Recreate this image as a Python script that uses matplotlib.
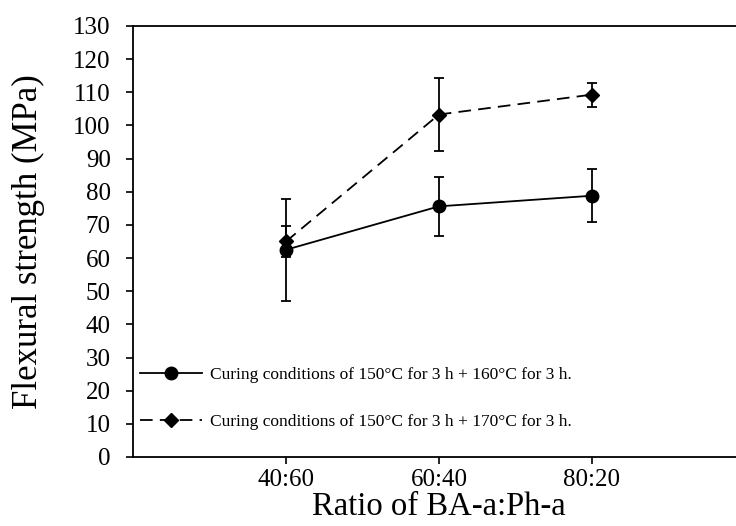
import numpy as np
import matplotlib
matplotlib.use('Agg')
import matplotlib.pyplot as plt
from matplotlib.lines import Line2D

# data
ratio_labels = ['40:60', '60:40', '80:20']
x_pos = [1, 2, 3]

strength_160 = [62.5, 75.6, 78.8]
err_160      = [15.3, 8.8, 8.0]

strength_170 = [65.0, 103.3, 109.3]
err_170      = [4.7, 10.9, 3.6]

label_160 = 'Curing conditions of 150°C for 3 h + 160°C for 3 h.'
label_170 = 'Curing conditions of 150°C for 3 h + 170°C for 3 h.'

dash_style = (0, (7, 4))

plt.rcParams['font.family'] = ['Liberation Serif', 'DejaVu Serif']

fig = plt.figure(figsize=(7.36, 5.26), dpi=100)
ax = fig.add_axes([0.1807, 0.1312, 0.8315, 0.8194])

ax.errorbar(x_pos, strength_160, yerr=err_160, color='black', linestyle='-',
            linewidth=1.3, marker='o', markersize=9, capsize=3.5,
            elinewidth=1.3, capthick=1.3)
ax.errorbar(x_pos, strength_170, yerr=err_170, color='black', linestyle=dash_style,
            linewidth=1.3, marker='D', markersize=7, capsize=3.5,
            elinewidth=1.3, capthick=1.3)

ax.set_xlim(0, 4)
ax.set_ylim(0, 130)
ax.set_yticks(np.arange(0, 131, 10))
ax.set_xticks(x_pos)
ax.set_xticklabels(ratio_labels)

ax.spines['right'].set_visible(False)
for s in ['left', 'bottom', 'top']:
    ax.spines[s].set_linewidth(1.3)

ax.tick_params(axis='y', direction='out', length=5, width=1.2, labelsize=18, pad=11)
ax.tick_params(axis='x', direction='out', length=5, width=1.2, labelsize=18, pad=4)

ax.set_xlabel('Ratio of BA-a:Ph-a', fontsize=23.5, labelpad=0)
ax.set_ylabel('Flexural strength (MPa)', fontsize=25, labelpad=20)

# legend handles without the error bars, as in the original
handles = [Line2D([], [], color='black', linestyle='-', linewidth=1.3,
                  marker='o', markersize=9),
           Line2D([], [], color='black', linestyle=dash_style, linewidth=1.3,
                  marker='D', markersize=7)]
ax.legend(handles, [label_160, label_170], loc='center left',
          bbox_to_anchor=(0.011, 0.136), frameon=False, fontsize=12.5,
          handlelength=3.6, handletextpad=0.45, labelspacing=1.8,
          borderpad=0, borderaxespad=0)

fig.savefig('out.png', dpi=100)
